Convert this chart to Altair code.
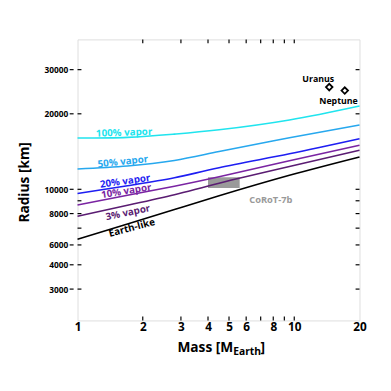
import altair as alt
import pandas as pd

# ---- data ----
masses = [1, 1.7, 2.8, 4.5, 9.5, 20]
series_names = ["100% vapor", "50% vapor", "20% vapor", "10% vapor", "3% vapor", "Earth-like"]
r_vapor100 = [16010, 16110, 16600, 17270, 18900, 21490]
r_vapor50 = [12050, 12390, 13030, 14140, 16040, 18060]
r_vapor20 = [9620, 10340, 11110, 12190, 13860, 15900]
r_vapor10 = [8660, 9460, 10280, 11210, 12990, 15000]
r_vapor3 = [7810, 8640, 9520, 10580, 12330, 14300]
r_earth = [6320, 7270, 8300, 9420, 11370, 13460]
series_colors = ["#20e4ee", "#27a8ee", "#1e1ef2", "#7a24a2", "#5a1c72", "#000000"]

label_mass = [1.64, 1.62, 1.66, 1.68, 1.71, 1.78]
label_radius = [16800, 12870, 10750, 9820, 8060, 7010]
label_angle = [358, 354, 352, 351, 348, 345]

planet_names = ["Uranus", "Neptune"]
planet_mass = [14.5, 17.1]
planet_radius = [25559, 24764]
planet_label_mass = [12.9, 16.0]
planet_label_radius = [27480, 22480]

corot_mass = [4.0, 5.6]
corot_radius = [10120, 11170]
corot_label = "CoRoT-7b"
corot_label_pos = [7.8, 9060]

x_tick_values = [1, 2, 3, 4, 5, 6, 8, 10, 20]
x_minor_ticks = [2, 3, 4, 5, 6, 7, 8, 9, 10]
y_tick_values = [4000, 5000, 6000, 8000, 10000, 20000, 30000]
y_tick_labels = ["3000", "4000", "6000", "8000", "10000", "20000", "30000"]
y_minor_ticks = [4000, 5000, 6000, 7000, 8000, 9000, 10000, 20000, 30000]

# ---- tables ----
all_r = [r_vapor100, r_vapor50, r_vapor20, r_vapor10, r_vapor3, r_earth]
rows = []
for name, rs in zip(series_names, all_r):
    for m, r in zip(masses, rs):
        rows.append({"series": name, "mass": m, "radius": r})
df_lines = pd.DataFrame(rows)
df_labels = pd.DataFrame({"series": series_names, "mass": label_mass,
                          "radius": label_radius, "angle": label_angle})
df_planets = pd.DataFrame({"name": planet_names, "mass": planet_mass, "radius": planet_radius,
                           "lm": planet_label_mass, "lr": planet_label_radius})
df_corot = pd.DataFrame({"m1": [corot_mass[0]], "m2": [corot_mass[1]],
                         "r1": [corot_radius[0]], "r2": [corot_radius[1]]})
df_corot_label = pd.DataFrame({"t": [corot_label], "mass": [corot_label_pos[0]],
                               "radius": [corot_label_pos[1]]})
df_xt = pd.DataFrame({"mass": x_minor_ticks})
df_yt = pd.DataFrame({"radius": y_minor_ticks})
df_ylab = pd.DataFrame({"radius": y_tick_values})

W, H = 288, 287
FONT = "Open Sans"

label_expr = " : ".join(
    [f"datum.value == {v} ? '{l}'" for v, l in zip(y_tick_values, y_tick_labels)]
) + " : ''"

xscale = alt.Scale(type="log", domain=[1, 20], nice=False)
yscale = alt.Scale(type="log", domain=[3000, 39600], nice=False)
xaxis = alt.Axis(values=x_tick_values, ticks=False, domain=False, grid=False, title=None,
                 labelFont=FONT, labelFontWeight="bold", labelFontSize=12,
                 labelColor="black", labelPadding=1, labelFlush=False, format="d")
yaxis = alt.Axis(values=y_tick_values, ticks=False, domain=False, grid=False, title=None,
                 labelFont=FONT, labelFontWeight="bold", labelFontSize=8.5,
                 labelColor="black", labelPadding=10, labelExpr=label_expr)
cscale = alt.Scale(domain=series_names, range=series_colors)


def X(f):
    return alt.X(f, scale=xscale, axis=xaxis)


def Y(f):
    return alt.Y(f, scale=yscale, axis=yaxis)


lines = alt.Chart(df_lines).mark_line(strokeWidth=1.6, interpolate="natural").encode(
    x=X("mass:Q"), y=Y("radius:Q"),
    color=alt.Color("series:N", scale=cscale, legend=None))

labels = alt.Chart(df_labels).mark_text(font=FONT, fontWeight="bold", fontSize=10).encode(
    x=X("mass:Q"), y=Y("radius:Q"), text="series:N",
    angle=alt.Angle("angle:Q", scale=None),
    color=alt.Color("series:N", scale=cscale, legend=None))

corot = alt.Chart(df_corot).mark_rect(color="#9a9a9a").encode(
    x=X("m1:Q"), x2="m2:Q", y=Y("r1:Q"), y2="r2:Q")

corot_text = alt.Chart(df_corot_label).mark_text(
    font=FONT, fontWeight="bold", fontSize=9.5, color="#9a9a9a").encode(
    x=X("mass:Q"), y=Y("radius:Q"), text="t:N")

planets = alt.Chart(df_planets).mark_point(
    shape="diamond", filled=False, color="black", strokeWidth=1.8, size=45, opacity=1).encode(
    x=X("mass:Q"), y=Y("radius:Q"))

planet_text = alt.Chart(df_planets).mark_text(
    font=FONT, fontWeight="bold", fontSize=9, color="black").encode(
    x=X("lm:Q"), y=Y("lr:Q"), text="name:N")

tick_style = dict(color="black", strokeWidth=1.2)
xt_bottom = alt.Chart(df_xt).mark_rule(**tick_style).encode(
    x=X("mass:Q"), y=alt.value(H), y2=alt.value(H - 4))
xt_top = alt.Chart(df_xt).mark_rule(**tick_style).encode(
    x=X("mass:Q"), y=alt.value(0), y2=alt.value(4))
yt_left = alt.Chart(df_yt).mark_rule(**tick_style).encode(
    y=Y("radius:Q"), x=alt.value(0), x2=alt.value(4))
yt_right = alt.Chart(df_yt).mark_rule(**tick_style).encode(
    y=Y("radius:Q"), x=alt.value(W - 4), x2=alt.value(W))
yt_outer = alt.Chart(df_ylab).mark_rule(**tick_style).encode(
    y=Y("radius:Q"), x=alt.value(-8), x2=alt.value(-4))

title_df = pd.DataFrame({"a": [0]})
ytitle = alt.Chart(title_df).mark_text(
    text="Radius [km]", font=FONT, fontWeight="bold", fontSize=14, angle=270,
    color="black").encode(x=alt.value(-54), y=alt.value(146))
xt1 = alt.Chart(title_df).mark_text(
    text="Mass [M", font=FONT, fontWeight="bold", fontSize=14, align="right",
    baseline="alphabetic", color="black").encode(x=alt.value(159), y=alt.value(H + 32))
xt2 = alt.Chart(title_df).mark_text(
    text="Earth", font=FONT, fontWeight="bold", fontSize=10.5, align="left",
    baseline="alphabetic", color="black").encode(x=alt.value(159), y=alt.value(H + 35))
xt3 = alt.Chart(title_df).mark_text(
    text="]", font=FONT, fontWeight="bold", fontSize=14, align="left",
    baseline="alphabetic", color="black").encode(x=alt.value(187), y=alt.value(H + 32))

chart = alt.layer(
    corot, lines, labels, corot_text, planets, planet_text,
    xt_bottom, xt_top, yt_left, yt_right, yt_outer,
    ytitle, xt1, xt2, xt3
).properties(
    width=W, height=H,
    padding={"left": 71, "top": 28, "right": 24, "bottom": 68},
    autosize=alt.AutoSizeParams(type="none"),
).configure_view(stroke="black", strokeWidth=2).configure(background="white")

chart.save("out.html", embed_options={"renderer": "svg", "actions": False})
